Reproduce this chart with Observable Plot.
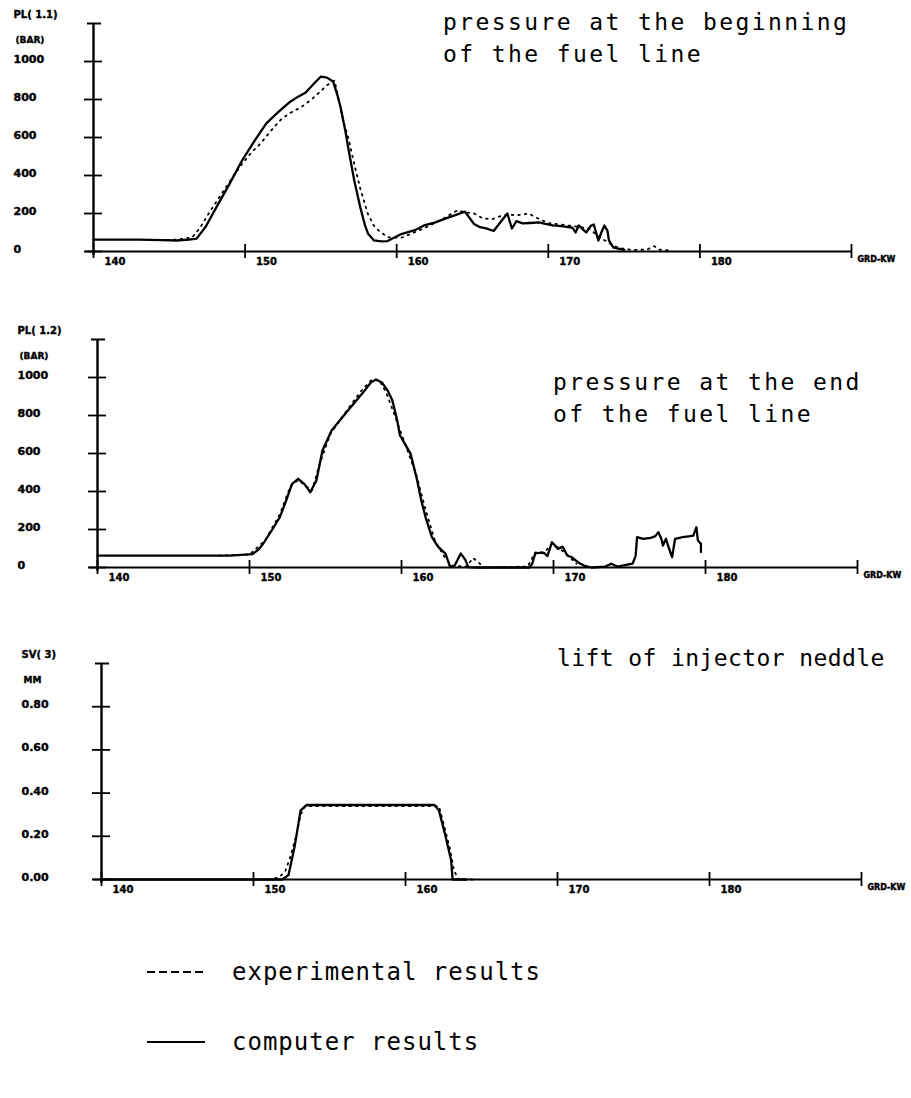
<!DOCTYPE html>
<html>
<head>
<meta charset="utf-8">
<script src="https://cdn.jsdelivr.net/npm/d3@7"></script>
<script src="https://cdn.jsdelivr.net/npm/@observablehq/plot@0.6"></script>
<style>
  html, body { margin: 0; padding: 0; background: #fff; }
  #page { position: relative; width: 911px; height: 1098px; overflow: hidden; background: #fff; }
  .panel { position: absolute; left: 0; }
  .title { position: absolute; font-family: "DejaVu Sans Mono", monospace; font-size: 23px; letter-spacing: 2.4px; color: #000; white-space: pre; line-height: 32px; }
  .legend { position: absolute; left: 147px; font-family: "DejaVu Sans Mono", monospace; font-size: 24px; letter-spacing: 1px; color: #000; display: flex; align-items: center; white-space: pre; }
  .legend svg { margin-right: 27px; }
</style>
</head>
<body>
<div id="page"></div>
<script>
// ---- tick labels / categories ----
const xTicks = [140, 150, 160, 170, 180];
const xTickLabels = ["140", "150", "160", "170", "180"];
const xEnd = 190;
const xEndLabel = "GRD-KW";
const pressureTicks = [0, 200, 400, 600, 800, 1000];
const pressureTickLabels = ["0", "200", "400", "600", "800", "1000"];
const liftTicks = [0, 0.2, 0.4, 0.6, 0.8];
const liftTickLabels = ["0.00", "0.20", "0.40", "0.60", "0.80"];

// ---- panel 1: pressure at the beginning of the fuel line (bar) ----
const p1Computer = [[140,63],[143,63],[144.5,60],[145.5,58],[146.3,62],[146.8,68],[147.4,130],[148.1,232],[149,360],[149.8,479],[150.6,580],[151.4,674],[152.2,735],[152.9,784],[153.5,815],[154.0,837],[154.5,880],[155.0,921],[155.4,915],[155.8,895],[156.1,820],[156.3,758],[156.6,640],[156.8,547],[157.2,374],[157.6,232],[157.9,140],[158.1,95],[158.5,58],[159.0,53],[159.4,55],[160.3,92],[161.2,112],[161.8,137],[162.5,152],[163.3,176],[164.0,195],[164.5,210],[165.1,145],[165.5,128],[165.9,122],[166.4,108],[166.8,150],[167.3,200],[167.6,121],[167.9,160],[168.3,148],[168.8,150],[169.4,153],[169.8,145],[170.3,138],[171.0,132],[171.6,125],[171.8,100],[172.0,137],[172.3,115],[172.5,100],[172.8,135],[173.0,142],[173.3,58],[173.5,100],[173.7,137],[173.9,110],[174.0,58],[174.3,20],[175,8]];
const p1Experimental = [[144,60],[145.5,62],[146.5,74],[147,121],[147.6,200],[148.3,286],[149,370],[149.8,461],[150.4,520],[151,567],[151.7,635],[152.4,698],[153,730],[153.7,760],[154.3,795],[154.8,830],[155.4,875],[155.9,900],[156.2,790],[156.5,680],[156.8,601],[157.2,461],[157.6,330],[158.1,198],[158.5,135],[158.8,111],[159.4,75],[160.3,72],[161,95],[162,130],[163,170],[164,216],[164.6,205],[165.1,200],[165.7,174],[166.3,170],[166.8,185],[167.4,195],[167.9,190],[168.7,200],[169.3,175],[170,150],[171,140],[172,130],[172.7,120],[173.3,80],[174,45],[174.6,20],[175.5,8],[176.5,10],[177,28],[177.3,10],[178,6]];

// ---- panel 2: pressure at the end of the fuel line (bar) ----
const p2Computer = [[140,63],[148.7,63],[150.2,70],[150.6,95],[150.9,125],[151.5,200],[152.0,265],[152.4,350],[152.8,440],[153.2,467],[153.6,440],[154.0,396],[154.4,458],[154.8,616],[155.4,721],[156.3,809],[157.4,914],[158.0,975],[158.3,988],[158.7,975],[159.1,930],[159.4,879],[159.7,780],[159.9,695],[160.3,640],[160.6,598],[161.0,470],[161.3,353],[161.6,260],[162.0,160],[162.4,110],[162.9,72],[163.2,2],[163.5,10],[163.9,74],[164.2,40],[164.4,2],[165,0],[168.4,0],[168.6,20],[168.8,74],[169.2,78],[169.4,75],[169.6,60],[169.9,133],[170.3,98],[170.6,110],[170.9,63],[171.2,54],[171.6,28],[172.0,10],[172.5,0],[173.4,5],[173.8,20],[174.2,5],[175.2,20],[175.4,60],[175.5,160],[175.9,151],[176.4,156],[176.7,165],[176.9,186],[177.1,150],[177.2,116],[177.4,151],[177.6,100],[177.8,54],[178.0,151],[178.5,160],[179.0,165],[179.2,168],[179.4,212],[179.5,142],[179.7,125],[179.7,81]];
const p2Experimental = [[148,63],[150,68],[151,140],[152,280],[152.7,430],[153.2,460],[153.7,430],[154.1,405],[154.6,540],[155.3,700],[156.3,815],[157.3,925],[158,985],[158.5,990],[159,920],[159.6,790],[160.2,660],[161,480],[161.6,300],[162.2,140],[162.8,60],[163.3,10],[164.3,5],[164.7,50],[165.1,25],[165.4,0],[168.3,5],[168.8,80],[169.4,80],[169.9,125],[170.4,100],[171,60],[171.5,20]];

// ---- panel 3: lift of injector needle (mm) ----
const p3Computer = [[140,0],[151.9,0],[152.3,0.02],[152.7,0.15],[153.1,0.32],[153.5,0.345],[161.9,0.345],[162.2,0.32],[162.6,0.21],[163.0,0.09],[163.1,0],[164,0]];
const p3Experimental = [[151,0],[151.7,0.01],[152.1,0.04],[152.4,0.1],[152.8,0.2],[153.1,0.3],[153.4,0.34],[162.2,0.34],[162.5,0.26],[162.9,0.15],[163.2,0.04],[163.5,0],[164.5,0]];

function panel(cfg) {
  const {comp, exp, yMax, yTicks, yTickLabels, yName, yUnit,
         marginLeft, marginRight, marginTop, marginBottom, height} = cfg;
  const plotW = 911 - marginLeft - marginRight;
  const plotH = height - marginTop - marginBottom;
  const xPx = (xEnd - 140) / plotW;   // x units per pixel
  const yPx = yMax / plotH;           // y units per pixel
  const lblFont = {fontFamily: "DejaVu Sans", fontWeight: 900, fill: "#000", stroke: "#000", strokeWidth: 0.4};
  return Plot.plot({
    width: 911, height, marginLeft, marginRight, marginTop, marginBottom,
    x: {domain: [140, xEnd], axis: null},
    y: {domain: [0, yMax], axis: null},
    style: {background: "transparent", overflow: "visible"},
    marks: [
      Plot.ruleX([140], {y1: -4 * yPx, y2: yMax, stroke: "#000", strokeWidth: 2.4}),
      Plot.ruleY([yMax], {x1: 140 - 6 * xPx, x2: 140 + 8 * xPx, stroke: "#000", strokeWidth: 2}),
      Plot.ruleY(yTicks, {x1: 140 - 9 * xPx, x2: 140 + 9 * xPx, stroke: "#000", strokeWidth: 1.8}),
      Plot.ruleY([0], {x1: 140 - 8 * xPx, x2: xEnd, stroke: "#000", strokeWidth: 2}),
      Plot.ruleX([...xTicks, xEnd], {y1: -7 * yPx, y2: 7 * yPx, stroke: "#000", strokeWidth: 1.8}),
      Plot.line(exp, {x: d => d[0], y: d => d[1], stroke: "#000", strokeWidth: 1.8, strokeDasharray: "1.6,5", curve: "linear"}),
      Plot.line(comp, {x: d => d[0], y: d => d[1], stroke: "#000", strokeWidth: 2.3, curve: "linear"}),
      Plot.text(yTicks, {x: 140, y: d => d, text: yTickLabels, dx: -80, dy: -2, textAnchor: "start", fontSize: 11, ...lblFont}),
      Plot.text([yName], {x: 140, y: yMax, text: d => d, dx: -80, dy: -9, textAnchor: "start", fontSize: 10, ...lblFont}),
      Plot.text([yUnit], {x: 140, y: yMax, text: d => d, dx: -78, dy: 17, textAnchor: "start", fontSize: 9, ...lblFont}),
      Plot.text(xTicks, {x: d => d, y: 0, text: xTickLabels, dx: 11, dy: 10, textAnchor: "start", fontSize: 10, ...lblFont}),
      Plot.text([xEndLabel], {x: xEnd, y: 0, text: d => d, dx: 6, dy: 8, textAnchor: "start", fontSize: 8, ...lblFont})
    ]
  });
}

const page = document.getElementById("page");
function place(node, top) {
  const d = document.createElement("div");
  d.className = "panel";
  d.style.top = top + "px";
  d.appendChild(node);
  page.appendChild(d);
}

place(panel({comp: p1Computer, exp: p1Experimental, yMax: 1200, yTicks: pressureTicks, yTickLabels: pressureTickLabels,
  yName: "PL( 1.1)", yUnit: "(BAR)", marginLeft: 93, marginRight: 60, marginTop: 23, marginBottom: 39, height: 290}), 0);
place(panel({comp: p2Computer, exp: p2Experimental, yMax: 1200, yTicks: pressureTicks, yTickLabels: pressureTickLabels,
  yName: "PL( 1.2)", yUnit: "(BAR)", marginLeft: 97, marginRight: 54, marginTop: 39, marginBottom: 40, height: 307}), 300);
place(panel({comp: p3Computer, exp: p3Experimental, yMax: 1.0, yTicks: liftTicks, yTickLabels: liftTickLabels,
  yName: "SV( 3)", yUnit: "MM", marginLeft: 101, marginRight: 50, marginTop: 43, marginBottom: 40, height: 299}), 620);

function addTitle(text, left, top, spacing) {
  const t = document.createElement("div");
  t.className = "title";
  t.style.left = left + "px";
  t.style.top = top + "px";
  if (spacing != null) t.style.letterSpacing = spacing + "px";
  t.textContent = text;
  page.appendChild(t);
}
addTitle("pressure at the beginning\nof the fuel line", 443, 6);
addTitle("pressure at the end\nof the fuel line", 553, 366);
addTitle("lift of injector neddle", 557, 642, 0.4);

function addLegend(label, dash, top) {
  const l = document.createElement("div");
  l.className = "legend";
  l.style.top = top + "px";
  l.innerHTML = `<svg width="58" height="10"><line x1="0" y1="5" x2="58" y2="5" stroke="#000" stroke-width="2" ${dash ? 'stroke-dasharray="8,4"' : ''}/></svg><span>${label}</span>`;
  page.appendChild(l);
}
addLegend("experimental results", true, 958);
addLegend("computer results", false, 1028);
</script>
</body>
</html>
